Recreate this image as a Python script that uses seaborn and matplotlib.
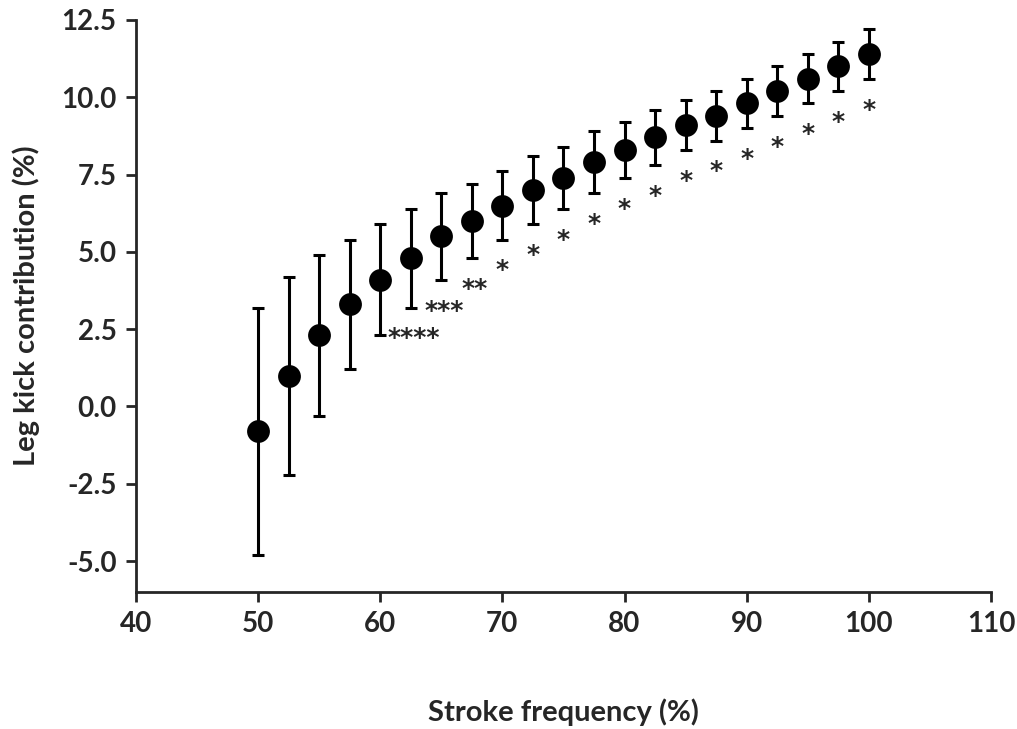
import matplotlib
matplotlib.use("Agg")
import matplotlib.pyplot as plt
import seaborn as sns
import numpy as np
import pandas as pd

# Data
stroke_freq = [50, 52.5, 55, 57.5, 60, 62.5, 65, 67.5, 70, 72.5, 75, 77.5, 80, 82.5, 85, 87.5, 90, 92.5, 95, 97.5, 100]
leg_kick = [-0.8, 1.0, 2.3, 3.3, 4.1, 4.8, 5.5, 6.0, 6.5, 7.0, 7.4, 7.9, 8.3, 8.7, 9.1, 9.4, 9.8, 10.2, 10.6, 11.0, 11.4]
error = [4.0, 3.2, 2.6, 2.1, 1.8, 1.6, 1.4, 1.2, 1.1, 1.1, 1.0, 1.0, 0.9, 0.9, 0.8, 0.8, 0.8, 0.8, 0.8, 0.8, 0.8]
signif = ["", "", "", "", "", "****", "***", "**", "*", "*", "*", "*", "*", "*", "*", "*", "*", "*", "*", "*", "*"]
x_ticks = [40, 50, 60, 70, 80, 90, 100, 110]
y_ticks = [-5.0, -2.5, 0.0, 2.5, 5.0, 7.5, 10.0, 12.5]

df = pd.DataFrame({"x": stroke_freq, "y": leg_kick, "err": error, "sig": signif})

sns.set_style("ticks")
plt.rcParams["font.family"] = ["Lato", "DejaVu Sans"]
plt.rcParams["font.weight"] = "bold"

fig = plt.figure(figsize=(10.17, 7.29), dpi=100)
ax = fig.add_axes([0.1337, 0.1879, 0.9744 - 0.1337, 0.9726 - 0.1879])

ax.errorbar(df["x"], df["y"], yerr=df["err"], fmt="none", ecolor="black",
            elinewidth=2.2, capsize=4, capthick=2.2, zorder=2)
sns.scatterplot(data=df, x="x", y="y", ax=ax, s=270, color="black",
                edgecolor="black", linewidth=0, zorder=3, legend=False)

for xi, yi, ei, s in zip(df["x"], df["y"], df["err"], df["sig"]):
    if s:
        ax.text(xi + (0.25 if len(s) > 1 else 0), yi - ei - 1.0, s, ha="center", va="center",
                fontsize=18, fontweight="bold", family=["DejaVu Sans"])

ax.set_xlim(40, 110)
ax.set_ylim(-6, 12.5)
ax.set_xticks(x_ticks)
ax.set_yticks(y_ticks)
ax.set_yticklabels([f"{v:.1f}" for v in y_ticks])
ax.tick_params(axis="both", which="major", length=7, width=2, labelsize=20, direction="out", pad=7)
for lab in ax.get_xticklabels() + ax.get_yticklabels():
    lab.set_fontweight("bold")

for side in ["top", "right"]:
    ax.spines[side].set_visible(False)
for side in ["left", "bottom"]:
    ax.spines[side].set_linewidth(2)

ax.set_xlabel("Stroke frequency (%)", fontsize=21, fontweight="bold", labelpad=44)
ax.set_ylabel("Leg kick contribution (%)", fontsize=21, fontweight="bold", labelpad=15)

fig.savefig("out.png", dpi=100)
